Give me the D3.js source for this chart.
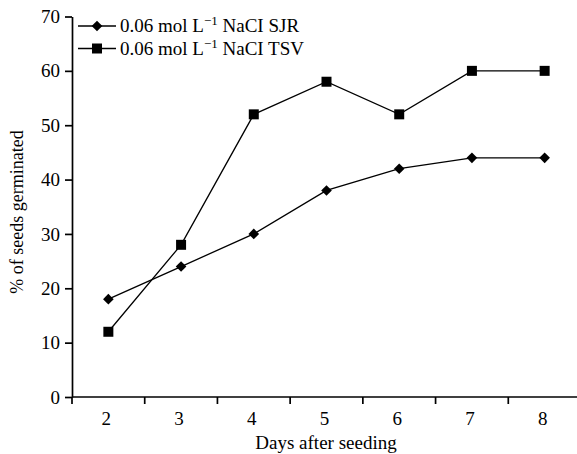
<!DOCTYPE html>
<html>
<head>
<meta charset="utf-8">
<script src="https://cdn.jsdelivr.net/npm/d3@7"></script>
<style>
  body { margin: 0; background: #fff; }
  svg text { font-family: "Liberation Serif", "Times New Roman", serif !important; fill: #000; }
</style>
</head>
<body>
<svg id="chart" width="577" height="454"></svg>
<script>
// --- data ---
const days = ["2", "3", "4", "5", "6", "7", "8"];
const sjrValues = [18, 24, 30, 38, 42, 44, 44];
const tsvValues = [12, 28, 52, 58, 52, 60, 60];
const yTicks = [0, 10, 20, 30, 40, 50, 60, 70];
const seriesNames = ["SJR", "TSV"];

const svg = d3.select("#chart");
const fs = 19;

const x = d3.scaleBand().domain(days).range([72, 581]);
const y = d3.scaleLinear().domain([0, 70]).range([397, 16.5]);

// y axis
const yAxis = svg.append("g").attr("transform", "translate(72,0)")
    .call(d3.axisLeft(y).tickValues(yTicks).tickSize(7).tickPadding(5).tickSizeOuter(0));
yAxis.select(".domain").attr("stroke", "#000").attr("stroke-width", 1.7);
yAxis.selectAll(".tick line").attr("stroke-width", 1.7);
yAxis.selectAll(".tick text").attr("font-size", fs);

// x axis: ticks on band boundaries, labels at band centres
const xAxis = svg.append("g").attr("transform", "translate(0,397)");
xAxis.append("line")
    .attr("x1", 72).attr("x2", 581)
    .attr("stroke", "#000").attr("stroke-width", 1.7);
xAxis.selectAll("line.b").data(days).join("line")
    .attr("class", "b")
    .attr("x1", d => x(d)).attr("x2", d => x(d))
    .attr("y1", 0).attr("y2", 7)
    .attr("stroke", "#000").attr("stroke-width", 1.7);
xAxis.selectAll("text").data(days).join("text")
    .attr("x", d => x(d) + x.bandwidth() / 2 - 2)
    .attr("y", 28)
    .attr("text-anchor", "middle")
    .attr("font-size", fs)
    .text(d => d);

// axis titles
svg.append("text")
    .attr("x", 326).attr("y", 449)
    .attr("text-anchor", "middle").attr("font-size", fs)
    .text("Days after seeding");
svg.append("text")
    .attr("transform", "translate(23,212) rotate(-90)")
    .attr("text-anchor", "middle").attr("font-size", 18)
    .text("% of seeds germinated");

// series
const cx = d => x(d) + x.bandwidth() / 2;
const line = d3.line().x(d => cx(d[0])).y(d => y(d[1]));
const sjr = days.map((d, i) => [d, sjrValues[i]]);
const tsv = days.map((d, i) => [d, tsvValues[i]]);

[sjr, tsv].forEach(s => {
  svg.append("path").datum(s).attr("d", line)
      .attr("fill", "none").attr("stroke", "#000").attr("stroke-width", 1.3);
});

const diamond = d3.symbol().type(d3.symbolDiamond2).size(72);
const square = d3.symbol().type(d3.symbolSquare).size(100);

svg.selectAll("path.sjr").data(sjr).join("path")
    .attr("class", "sjr")
    .attr("transform", d => `translate(${cx(d[0])},${y(d[1])})`)
    .attr("d", diamond()).attr("fill", "#000");
svg.selectAll("path.tsv").data(tsv).join("path")
    .attr("class", "tsv")
    .attr("transform", d => `translate(${cx(d[0])},${y(d[1])})`)
    .attr("d", square()).attr("fill", "#000");

// legend
const legend = svg.append("g");
seriesNames.forEach((name, i) => {
  const ly = 26 + i * 22.5;
  legend.append("line").attr("x1", 78).attr("x2", 116).attr("y1", ly).attr("y2", ly)
      .attr("stroke", "#000").attr("stroke-width", 1.3);
  legend.append("path")
      .attr("transform", `translate(97,${ly})`)
      .attr("d", i === 0 ? diamond() : square()).attr("fill", "#000");
  const t = legend.append("text").attr("x", 120).attr("y", ly + 6).attr("font-size", fs);
  t.append("tspan").text("0.06 mol L");
  t.append("tspan").attr("dy", -7).attr("font-size", 13).text("\u22121");
  t.append("tspan").attr("dy", 7).text(" NaCI " + name);
});
</script>
</body>
</html>
